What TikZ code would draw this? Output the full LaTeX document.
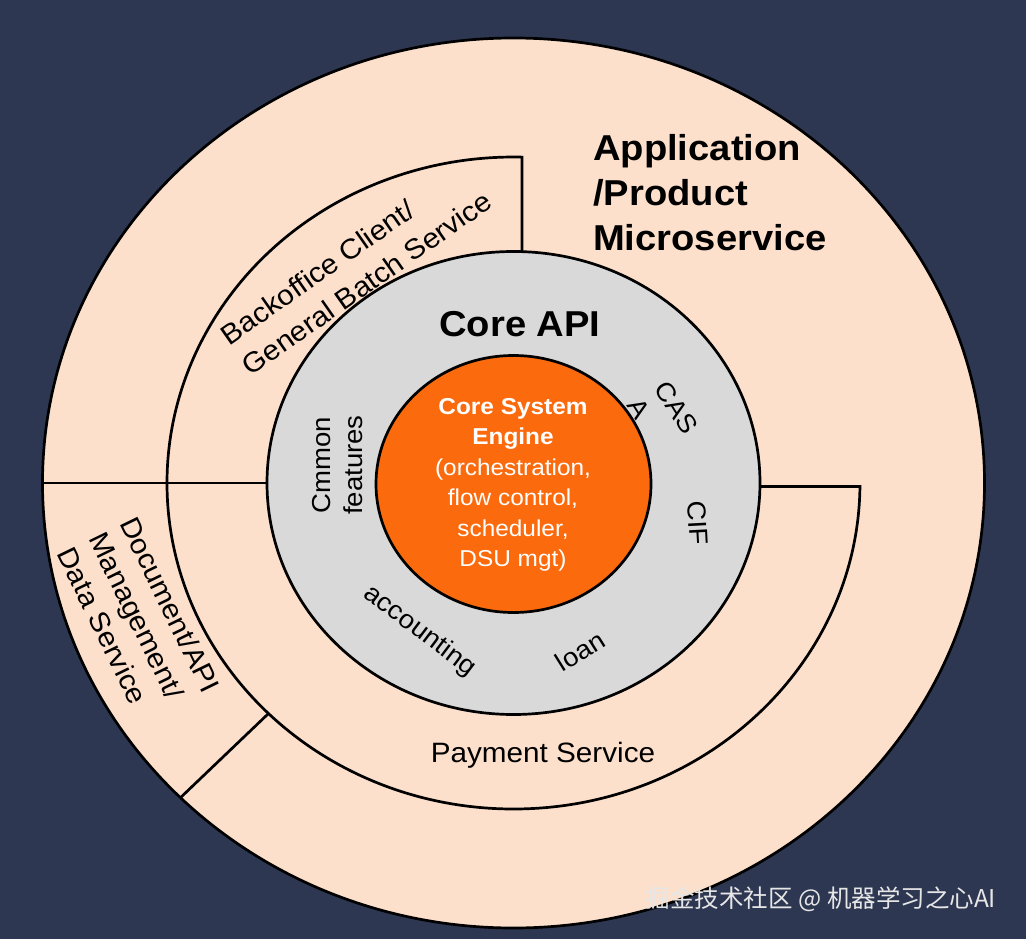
\documentclass[tikz,border=0pt]{standalone}
\usepackage{fontspec}
\setmainfont[FakeStretch=1.06]{Liberation Sans}
\newfontfamily\cjkfont{Noto Sans CJK SC}
\usetikzlibrary{calc}
\definecolor{bgnavy}{HTML}{2E3752}
\definecolor{ringpeach}{HTML}{FDE0CB}
\definecolor{coregray}{HTML}{D9D9D9}
\definecolor{engorange}{HTML}{FB6A0C}
\definecolor{markwhite}{HTML}{E6E6E6}

\begin{document}
\begin{tikzpicture}[x=1pt, y=-1pt,
  rim/.style={line width=2.7pt, black},
  ringtext/.style={font=\fontsize{26}{32}\selectfont, align=center, inner sep=0pt},
  sidetext/.style={font=\fontsize{28}{37}\selectfont, align=left, inner sep=0pt}]
  \useasboundingbox (0,0) rectangle (1026,939);
  \fill[bgnavy] (0,0) rectangle (1026,939);
  \coordinate (ctr) at (513.5,483);
  % outer ring
  \draw[rim, fill=ringpeach] (ctr) ellipse [x radius=471, y radius=445];
  % middle ring: backoffice, payment, document parts
  \draw[rim] ($(ctr)+(180:346.5 and 326)$)
    arc[start angle=180, end angle=271.4, x radius=346.5, y radius=326] -- (522,300);
  \draw[rim] ($(ctr)+(180:346.5 and 326)$)
    arc[start angle=180, end angle=0.6, x radius=346.5, y radius=326] -- (600,486.4);
  \draw[rim] ($(ctr)+(180:471 and 445)$) -- (ctr);
  \draw[rim] ($(ctr)+(135:346.5 and 326)$) -- ($(ctr)+(135:471 and 445)$);
  % core api and engine
  \draw[rim, fill=coregray] (ctr) ellipse [x radius=246.5, y radius=231.5];
  \draw[rim, fill=engorange] (513.5,484) ellipse [x radius=137.5, y radius=128.5];

  \node[anchor=north west, inner sep=0pt, align=left, font=\bfseries\fontsize{36}{45}\selectfont]
    (title) at (593,134) {Application\\/Product\\Microservice};
  \node[inner sep=0pt, font=\bfseries\fontsize{36}{43}\selectfont] (coreapi) at (520,324) {Core API};
  \node[text=white, align=center, inner sep=0pt, font=\fontsize{23}{30.5}\selectfont]
    (engine) at (513,485) {\textbf{Core System}\\\textbf{Engine}\\(orchestration,\\flow control,\\scheduler,\\DSU mgt)};

  \node[ringtext, rotate=90] (common) at (338,465) {Cmmon\\features};
  \node[ringtext, rotate=-58, align=left] (casa) at (663,416) {CAS\\A};
  \node[ringtext, rotate=-87] (cif) at (698,523) {CIF};
  \node[ringtext, rotate=-37] (acct) at (420,631) {accounting};
  \node[ringtext, rotate=32] (loan) at (580,651) {loan};

  \node[sidetext, rotate=35] (backoffice) at (356,268) {Backoffice Client/\\General Batch Service};
  \node[sidetext, rotate=-64, font=\fontsize{28}{35}\selectfont] (docmgmt) at (139,620) {Document/API\\Management/\\Data Service};
  \node[inner sep=0pt, font=\fontsize{28}{32}\selectfont] (payment) at (543,755) {Payment Service};

  \node[text=markwhite, inner sep=0pt, font=\cjkfont\fontsize{24.5}{25}\selectfont]
    (mark) at (821,899) {掘金技术社区 @ 机器学习之心AI};
\end{tikzpicture}
\end{document}
